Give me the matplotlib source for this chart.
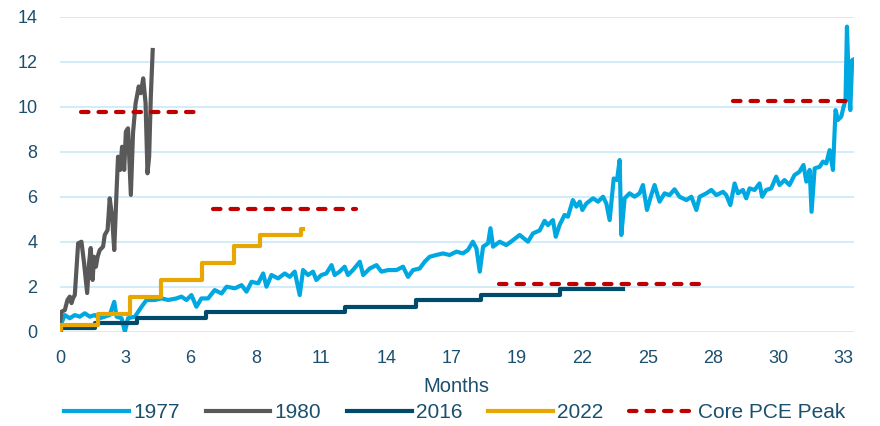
import matplotlib
matplotlib.use("Agg")
import matplotlib.pyplot as plt

# months since start / value
months_1977 = [0.00, 0.21, 0.42, 0.63, 0.84, 1.05, 1.26, 1.47, 1.68, 1.89, 2.10, 2.29, 2.39, 2.60, 2.74,
               2.87, 3.16, 3.44, 3.65, 4.00, 4.28, 4.56, 4.91, 5.12, 5.33, 5.54, 5.75, 5.96, 6.24, 6.52,
               6.81, 7.02, 7.37, 7.65, 7.86, 8.07, 8.35, 8.56, 8.70, 8.91, 9.19, 9.47, 9.68, 9.89, 10.10,
               10.24, 10.45, 10.66, 10.80, 11.01, 11.22, 11.44, 11.57, 11.78, 11.99, 12.13, 12.34, 12.63,
               12.77, 13.05, 13.33, 13.54, 13.82, 14.17, 14.45, 14.66, 14.87, 15.15, 15.36, 15.57, 15.85,
               16.13, 16.41, 16.70, 16.97, 17.18, 17.39, 17.54, 17.68, 17.82, 18.03, 18.13, 18.24, 18.52,
               18.80, 19.08, 19.36, 19.71, 19.92, 20.20, 20.41, 20.55, 20.76, 20.88, 21.04, 21.25, 21.39,
               21.60, 21.75, 21.89, 22.00, 22.17, 22.45, 22.66, 22.87, 23.01, 23.15, 23.32, 23.46, 23.57,
               23.64, 23.78, 23.99, 24.20, 24.41, 24.55, 24.72, 24.90, 25.04, 25.25, 25.46, 25.67, 25.88,
               26.09, 26.38, 26.59, 26.80, 26.94, 27.22, 27.43, 27.64, 27.92, 28.06, 28.23, 28.41, 28.55,
               28.76, 28.90, 29.04, 29.25, 29.46, 29.57, 29.74, 29.95, 30.16, 30.30, 30.51, 30.72, 30.93,
               31.14, 31.31, 31.43, 31.57, 31.65, 31.78, 31.99, 32.13, 32.27, 32.41, 32.55, 32.66, 32.76,
               32.90, 33.00, 33.08, 33.14, 33.22, 33.28, 33.36, 33.42]
values_1977 = [0.22, 0.74, 0.60, 0.74, 0.67, 0.82, 0.67, 0.74, 0.60, 0.67, 0.74, 1.33, 0.67, 0.60, 0.00,
               0.60, 0.67, 1.11, 1.41, 1.41, 1.48, 1.41, 1.48, 1.56, 1.41, 1.63, 1.11, 1.48, 1.48, 1.85,
               1.70, 2.00, 1.93, 2.07, 1.78, 2.22, 2.15, 2.59, 2.00, 2.52, 2.37, 2.59, 2.44, 2.67, 1.63,
               2.74, 2.52, 2.67, 2.30, 2.52, 2.59, 2.96, 2.52, 2.67, 2.89, 2.52, 2.74, 3.11,
               2.52, 2.81, 2.96, 2.67, 2.74, 2.74, 2.89, 2.44, 2.74, 2.81, 3.11, 3.33, 3.41,
               3.48, 3.41, 3.56, 3.48, 3.63, 4.00, 3.70, 2.67, 3.78, 3.93, 4.60, 3.78, 4.00,
               3.85, 4.07, 4.30, 4.00, 4.37, 4.50, 4.93, 4.74, 4.96, 4.22, 4.74, 5.19, 5.11,
               5.85, 5.56, 5.78, 5.41, 5.70, 5.93, 5.78, 6.00, 5.70, 4.96, 6.81, 6.74, 7.63,
               4.30, 5.93, 6.15, 6.00, 6.15, 6.52, 5.41, 6.07, 6.52, 5.78, 6.15, 6.07, 6.33,
               6.00, 5.85, 6.00, 5.41, 6.00, 6.15, 6.30, 6.07, 6.22, 6.07, 5.63, 6.59, 6.15,
               6.30, 5.93, 6.37, 6.30, 6.59, 6.00, 6.30, 6.37, 6.89, 6.52, 6.74, 6.52, 6.96,
               7.11, 7.41, 6.67, 7.19, 5.33, 7.26, 7.33, 7.56, 7.48, 8.07, 7.19, 9.85, 9.41,
               9.56, 10.00, 10.30, 13.56, 10.90, 9.85, 12.07, 12.10]

months_1980 = [0.00, 0.07, 0.21, 0.32, 0.42, 0.49, 0.56, 0.63, 0.77, 0.91, 1.02, 1.15, 1.23, 1.30, 1.38,
               1.44, 1.52, 1.59, 1.68, 1.82, 1.89, 2.01, 2.10, 2.20, 2.29, 2.39, 2.45, 2.54, 2.62, 2.71,
               2.78, 2.87, 2.99, 3.08, 3.19, 3.27, 3.32, 3.41, 3.51, 3.61, 3.69, 3.76, 3.83, 3.91]
values_1980 = [0.38, 0.89, 0.96, 1.41, 1.56, 1.27, 1.50, 1.63, 3.93, 4.00, 3.05, 1.72, 3.05, 3.72, 2.30,
               3.33, 2.89, 3.33, 3.63, 3.78, 4.30, 4.52, 5.93, 5.11, 3.63, 6.30, 7.78, 7.19, 8.22, 7.19,
               8.89, 9.04, 6.08, 8.82, 10.15, 10.60, 10.90, 10.60, 11.26, 10.15, 7.04, 7.78, 10.44, 12.52]

# step series: month of each change and the level after it
months_2016 = [0, 0.05, 1.50, 3.23, 6.17, 12.00, 15.00, 17.75, 21.04, 23.70]
values_2016 = [0.05, 0.15, 0.37, 0.60, 0.89, 1.11, 1.41, 1.65, 1.88, 1.88]

months_2022 = [0, 0.05, 1.61, 2.95, 4.25, 6.00, 7.34, 8.42, 10.17, 10.22]
values_2022 = [0.08, 0.28, 0.80, 1.55, 2.30, 3.05, 3.80, 4.30, 4.55, 4.55]

# core PCE peak markers: level, start month, end month
peak_levels = [9.78, 5.44, 2.12, 10.24]
peak_start = [0.87, 6.45, 18.49, 28.34]
peak_end = [5.71, 12.46, 26.97, 33.18]

tick_pos = [i * 2.75 for i in range(13)]
tick_labels = ["0", "3", "6", "8", "11", "14", "17", "19", "22", "25", "28", "30", "33"]

text_col = "#1B4F6E"
plt.rcParams["font.family"] = ["Liberation Sans", "DejaVu Sans"]

fig = plt.figure(figsize=(8.8, 4.26), dpi=100)
ax = fig.add_axes([0.068, 0.2213, 0.902, 0.7395])

ax.plot(months_1977, values_1977, color="#00A8E1", lw=3, label="1977", solid_joinstyle="round")
ax.plot(months_1980, values_1980, color="#595959", lw=3, label="1980", solid_joinstyle="round")
ax.step(months_2016, values_2016, where="post", color="#004B6B", lw=3, label="2016")
ax.step(months_2022, values_2022, where="post", color="#E8A600", lw=3, label="2022")

for i in range(len(peak_levels)):
    ax.plot([peak_start[i], peak_end[i]], [peak_levels[i], peak_levels[i]], color="#C00000", lw=3,
            dashes=(1.8, 2.4), dash_capstyle="round", label="Core PCE Peak" if i == 0 else None)

ax.set_xlim(0, 33.42)
ax.set_ylim(0, 14)
ax.set_yticks(range(0, 15, 2))
ax.set_xticks(tick_pos)
ax.set_xticklabels(tick_labels)
ax.grid(axis="y", color="#C9EAF8", lw=1.2)
ax.set_axisbelow(True)
for s in ax.spines.values():
    s.set_visible(False)
ax.tick_params(length=0, labelsize=13, colors=text_col)
ax.tick_params(axis="y", pad=16)
ax.tick_params(axis="x", pad=13)
ax.set_xlabel("Months", fontsize=14.5, color=text_col, labelpad=7)

fig.legend(loc="center", bbox_to_anchor=(0.517, 0.032), ncol=5, frameon=False, fontsize=15,
           labelcolor=text_col, handlelength=3.1, handletextpad=0.2, columnspacing=1.25)

fig.savefig("out.png", dpi=100)
